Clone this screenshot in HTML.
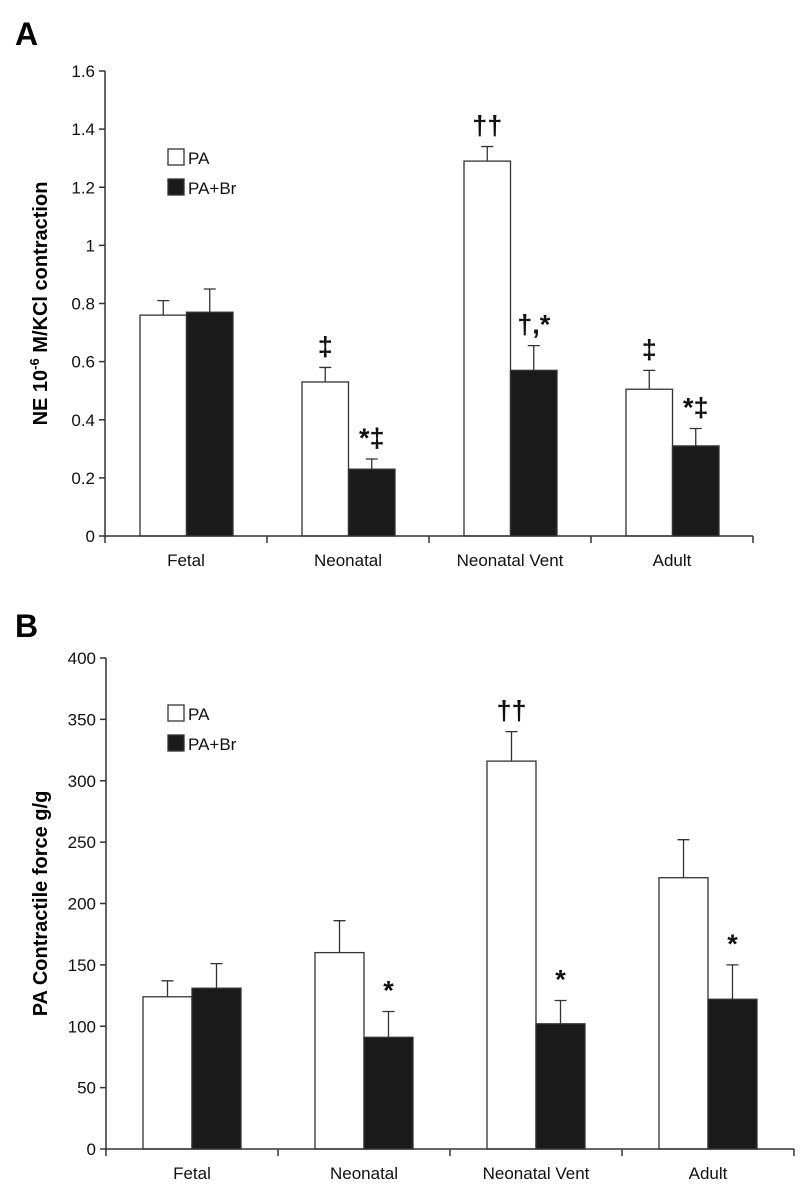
<!DOCTYPE html>
<html><head><meta charset="utf-8"><style>
body{margin:0;background:#fff;}
svg{display:block;font-family:"Liberation Sans",Arial,sans-serif;}
</style></head><body>
<svg id="s" width="800" height="1190"></svg>
<script>
const categories=["Fetal","Neonatal","Neonatal Vent","Adult"];
const aPA=[0.76,0.53,1.29,0.505];
const aPAerr=[0.05,0.05,0.05,0.065];
const aBr=[0.77,0.23,0.57,0.31];
const aBrErr=[0.08,0.035,0.085,0.06];
const aTicks=["0","0.2","0.4","0.6","0.8","1","1.2","1.4","1.6"];
const aTickVals=[0,0.2,0.4,0.6,0.8,1,1.2,1.4,1.6];
const bPA=[124,160,316,221];
const bPAerr=[13,26,24,31];
const bBr=[131,91,102,122];
const bBrErr=[20,21,19,28];
const bTicks=["0","50","100","150","200","250","300","350","400"];
const bTickVals=[0,50,100,150,200,250,300,350,400];
const aNotes=[["‡",1,0,0.58],["*‡",1,1,0.265],["††",2,0,1.34],["†,*",2,1,0.655],["‡",3,0,0.57],["*‡",3,1,0.37]];
const bNotes=[["*",1,1,112],["††",2,0,340],["*",2,1,121],["*",3,1,150]];

const NS="http://www.w3.org/2000/svg";
const svg=document.getElementById('s');
function mk(t,a,p){const e=document.createElementNS(NS,t);for(const k in a)e.setAttribute(k,a[k]);(p||svg).appendChild(e);return e;}

function chart(o){
  const g=mk('g',{});
  
  
  const y=v=>o.y0-(v/o.max)*(o.y0-o.yTop);
  const xc=i=>o.x0+i*o.cw;
  const L=mk('text',{x:15,y:o.letterY,'font-size':32,'font-weight':'bold'},g);L.textContent=o.letter;
  
  for(let i=0;i<categories.length;i++){
    const bx=xc(i)+o.off;
    [[o.pa,o.paE,'#fff',0],[o.br,o.brE,'#1a1a1a',1]].forEach(([vals,errs,fill,k])=>{
      const x=bx+k*o.bw;
      const r=mk('rect',{x:x,y:y(vals[i]),width:o.bw,height:o.y0-y(vals[i]),fill:fill,stroke:'#333','stroke-width':1.3},g);
      
      
      const cx=x+o.bw/2,t=y(vals[i]+errs[i]);
      const e=mk('path',{d:`M${cx} ${y(vals[i])}V${t}M${cx-6} ${t}H${cx+6}`,stroke:'#333','stroke-width':1.3,fill:'none'},g);
      
    });
    const lab=mk('text',{x:xc(i)+o.cw/2,y:o.y0+30,'font-size':17,'text-anchor':'middle',fill:'#111'},g);
    lab.textContent=categories[i];
    
  }
  const ax=mk('path',{d:`M${o.x0} ${o.yTop}V${o.y0}H${o.x0+4*o.cw}`,stroke:'#333','stroke-width':1.5,fill:'none'},g);
  
  for(let i=0;i<=4;i++)mk('line',{x1:xc(i),x2:xc(i),y1:o.y0,y2:o.y0+7,stroke:'#333','stroke-width':1.5},g);
  o.tv.forEach((v,j)=>{
    mk('line',{x1:o.x0-6,x2:o.x0,y1:y(v),y2:y(v),stroke:'#333','stroke-width':1.5},g);
    const t=mk('text',{x:o.x0-10,y:y(v)+6,'font-size':17,'text-anchor':'end',fill:'#111'},g);
    t.textContent=o.tl[j];
    
  });
  const yt=mk('text',{x:0,y:0,'font-size':20,'font-weight':'bold','text-anchor':'middle',transform:`translate(47 ${(o.y0+o.yTop)/2}) rotate(-90)`},g);
  yt.innerHTML=o.title;
  
  [['PA','#fff',0],['PA+Br','#1a1a1a',1]].forEach(([n,f,k])=>{
    const ly=o.legY+k*30;
    mk('rect',{x:168,y:ly-13,width:16,height:16,fill:f,stroke:'#333','stroke-width':1.3},g);
    const t=mk('text',{x:188,y:ly+2,'font-size':17,fill:'#111'},g);t.textContent=n;
    
  });
  o.notes.forEach(([s,i,k,v])=>{
    const t=mk('text',{x:xc(i)+o.off+k*o.bw+o.bw/2,y:y(v)-12,'font-size':27,'font-weight':'bold','text-anchor':'middle',fill:'#111'},g);
    t.textContent=s;
    
  });
}
chart({name:'chart-a',letter:'A',letterY:45,x0:105,y0:536,yTop:71,max:1.6,cw:162,off:35,bw:46.5,pa:aPA,paE:aPAerr,br:aBr,brE:aBrErr,tv:aTickVals,tl:aTicks,
 title:'NE 10<tspan dy="-8" font-size="13">-6</tspan><tspan dy="8"> M/KCl contraction</tspan>',legY:162,notes:aNotes});
chart({name:'chart-b',letter:'B',letterY:637,x0:106,y0:1149,yTop:658,max:400,cw:172,off:37,bw:49,pa:bPA,paE:bPAerr,br:bBr,brE:bBrErr,tv:bTickVals,tl:bTicks,
 title:'PA Contractile force g/g',legY:718,notes:bNotes});
</script>
</body></html>
